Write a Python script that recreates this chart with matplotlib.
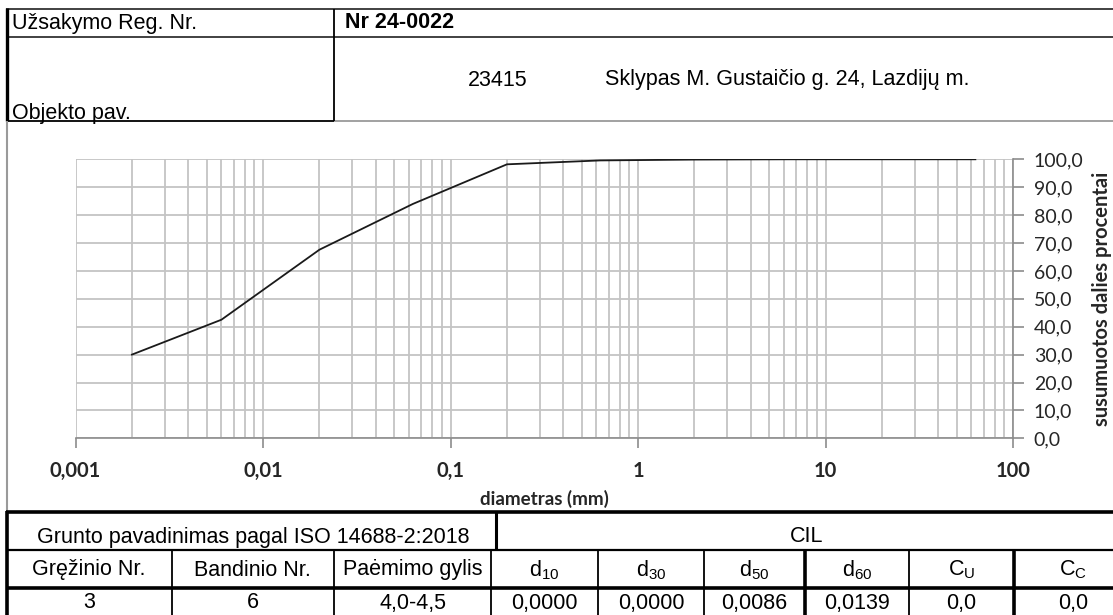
import numpy as np
import matplotlib.pyplot as plt
from matplotlib.ticker import LogLocator, NullFormatter

plt.rcParams['mathtext.fontset'] = 'custom'
plt.rcParams['mathtext.rm'] = 'Liberation Sans'
plt.rcParams['mathtext.it'] = 'Liberation Sans:italic'

# header texts
reg_label = 'Užsakymo Reg. Nr.'
reg_no = 'Nr 24-0022'
obj_label = 'Objekto pav.'
obj_code = '23415'
obj_name = 'Sklypas M. Gustaičio g. 24, Lazdijų m.'

# grain size curve
sieve_mm = [0.002, 0.006, 0.02, 0.063, 0.2, 0.63, 2, 6.3, 20, 63]
passing = [30.0, 42.5, 67.6, 84.0, 98.2, 99.6, 99.9, 100.0, 100.0, 100.0]

x_ticks = [0.001, 0.01, 0.1, 1, 10, 100]
x_labels = ['0,001', '0,01', '0,1', '1', '10', '100']
y_ticks = [0, 10, 20, 30, 40, 50, 60, 70, 80, 90, 100]
y_labels = ['0,0', '10,0', '20,0', '30,0', '40,0', '50,0', '60,0', '70,0', '80,0', '90,0', '100,0']

# bottom table
soil_label = 'Grunto pavadinimas pagal ISO 14688-2:2018'
soil_name = 'CIL'
col_headers = ['Gręžinio Nr.', 'Bandinio Nr.', 'Paėmimo gylis',
               r'$\mathrm{d_{10}}$', r'$\mathrm{d_{30}}$', r'$\mathrm{d_{50}}$',
               r'$\mathrm{d_{60}}$', r'$\mathrm{C_{U}}$', r'$\mathrm{C_{C}}$']
row_values = ['3', '6', '4,0-4,5', '0,0000', '0,0000', '0,0086', '0,0139', '0,0', '0,0']

W, H = 1113, 615
fig = plt.figure(figsize=(W / 100, H / 100), dpi=100)

# overlay in pixel coordinates for the form lines and texts
ov = fig.add_axes([0, 0, 1, 1])
ov.set_xlim(0, W)
ov.set_ylim(H, 0)
ov.axis('off')

def hline(y, x0, x1, lw=1.1, c='black'):
    ov.plot([x0, x1], [y, y], color=c, lw=lw, solid_capstyle='butt')

def vline(x, y0, y1, lw=1.1, c='black'):
    ov.plot([x, x], [y0, y1], color=c, lw=lw, solid_capstyle='butt')

tfont = dict(family='Liberation Sans', fontsize=15.5, color='black')

# header block
hline(8.5, 6, W, lw=1.3, c='#333333')
hline(37, 6, W, lw=1.3, c='#333333')
hline(121, 6, 334, lw=1.3)
hline(121, 334, W, lw=1.3, c='#9a9a9a')
vline(7, 8, 121, lw=2.4)
vline(334, 8.5, 121, lw=1.3)
vline(7, 121, 512, lw=1.5, c='#9a9a9a')

ov.text(12, 23, reg_label, ha='left', va='center', **tfont)
ov.text(345, 23, reg_no, ha='left', va='center', fontweight='bold', **tfont)
ov.text(12, 113, obj_label, ha='left', va='center', **tfont)
ov.text(498, 80, obj_code, ha='center', va='center', **tfont)
ov.text(605, 80, obj_name, ha='left', va='center', **tfont)

# table block
hline(512, 5.5, W, lw=2.6)
hline(550, 7, W, lw=1.6)
hline(588, 7, W, lw=2.6)
vline(7, 511, H, lw=2.6)
vline(496, 512, 550, lw=2.2)
col_edges = [7, 171.5, 334, 491, 598, 704, 805, 909, 1014, 1132]
thick = {805, 1014}
for x in col_edges[1:-1]:
    vline(x, 550, H, lw=2.6 if x in thick else 1.3)

ov.text(253, 537, soil_label, ha='center', va='center', **tfont)
ov.text(807, 537, soil_name, ha='center', va='center', **tfont)
for i in range(len(col_headers)):
    xc = (col_edges[i] + col_edges[i + 1]) / 2
    ov.text(xc, 570, col_headers[i], ha='center', va='center', **tfont)
    ov.text(xc, 603, row_values[i], ha='center', va='center', **tfont)

# chart
x0, x1 = 75.5, 1013
yb, yt = 438.3, 159.3
ax = fig.add_axes([x0 / W, (H - yb) / H, (x1 - x0) / W, (yb - yt) / H])
ax.patch.set_alpha(0)
ax.set_xscale('log')
ax.set_xlim(0.001, 100)
ax.set_ylim(0, 100)

ax.plot(sieve_mm, passing, color='#1a1a1a', lw=1.3, zorder=5)

ax.set_xticks(x_ticks, x_labels)
ax.xaxis.set_minor_locator(LogLocator(base=10, subs=np.arange(2, 10)))
ax.xaxis.set_minor_formatter(NullFormatter())
ax.set_yticks(y_ticks, y_labels)
ax.yaxis.tick_right()
ax.yaxis.set_label_position('right')

ax.grid(True, which='both', axis='x', color='#c4c4c4', lw=1.3)
ax.grid(True, which='major', axis='y', color='#c4c4c4', lw=1.3)
ax.set_axisbelow(True)

for s in ['top', 'left']:
    ax.spines[s].set_visible(False)
for s in ['bottom', 'right']:
    ax.spines[s].set_color('#8c8c8c')
    ax.spines[s].set_linewidth(1.2)

ax.tick_params(axis='x', which='major', direction='out', length=7, width=1.2,
               color='#8c8c8c', pad=9)
ax.tick_params(axis='x', which='minor', length=0)
ax.tick_params(axis='y', which='major', direction='out', length=8, width=1.2,
               color='#8c8c8c', pad=7)
for lab in ax.get_xticklabels():
    lab.set_family('Lato')
    lab.set_fontweight('bold')
    lab.set_fontsize(14.5)
    lab.set_color('#262626')
for lab in ax.get_yticklabels():
    lab.set_family('Lato')
    lab.set_fontsize(14)
    lab.set_color('#262626')

ax.set_xlabel('diametras (mm)', family='Lato', fontweight='bold', fontsize=13.5,
              color='#262626', labelpad=7)
ax.set_ylabel('susumuotos dalies procentai', family='Lato', fontweight='bold',
              fontsize=14.5, color='#262626', labelpad=6)

fig.savefig('out.png', dpi=100)
